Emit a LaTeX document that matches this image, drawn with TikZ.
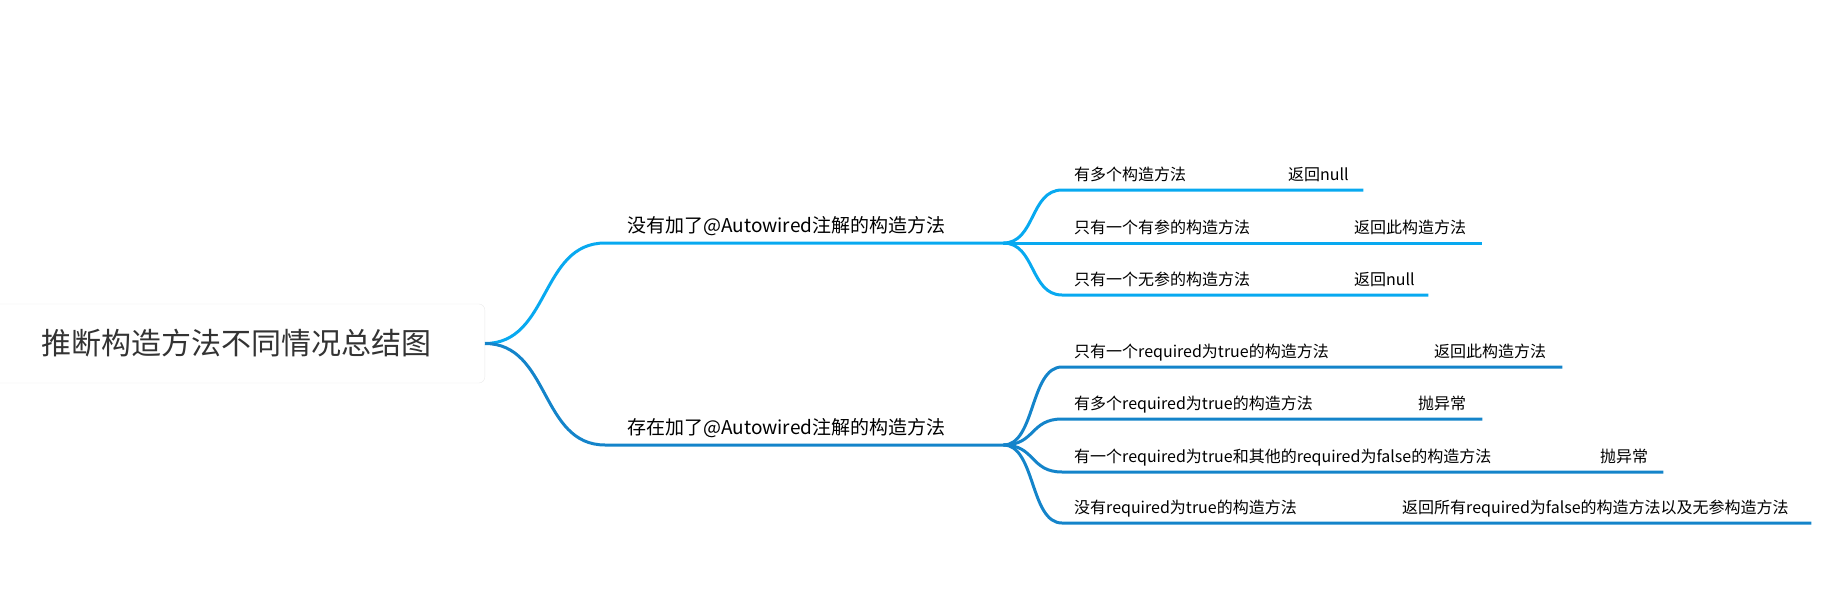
\documentclass[tikz,border=0pt]{standalone}
\usepackage{fontspec}
\setmainfont{Noto Sans CJK SC}
\definecolor{skyline}{HTML}{08A9F0}
\definecolor{deepline}{HTML}{1484CA}
\definecolor{roottext}{HTML}{333333}
\tikzset{
  rootbox/.style={draw=black!8, fill=white, rounded corners=6pt, text=roottext,
    font=\fontsize{30}{36}\selectfont, minimum height=79pt, inner xsep=53pt},
  branch/.style={anchor=south west, font=\fontsize{19}{23}\selectfont,
    inner xsep=22pt, inner ysep=10pt, text depth=0pt, align=left},
  leaf/.style={anchor=south west, font=\fontsize{16}{19}\selectfont,
    inner xsep=12pt, inner ysep=9pt, text depth=0pt, align=left},
  skywire/.style={draw=skyline, line width=3pt},
  deepwire/.style={draw=deepline, line width=3pt},
}
\begin{document}
\begin{tikzpicture}[x=1pt,y=-1pt]
  \useasboundingbox (0,0) rectangle (1839,610);
  \node[rootbox, anchor=east] (root) at (485,343.5) {推断构造方法不同情况总结图};
  \node[branch, text width=354pt] (b1) at (605,243) {没有加了@Autowired注解的构造方法};
  \node[branch, text width=354pt] (b2) at (605,445) {存在加了@Autowired注解的构造方法};
  \draw[skywire] (root.east) .. controls +(65,0) and +(-65,0) .. (b1.south west) -- (b1.south east);
  \draw[deepwire] (root.east) .. controls +(65,0) and +(-65,0) .. (b2.south west) -- (b2.south east);
  % no @Autowired
  \foreach \y/\wc/\tc/\xg/\wg/\tg [count=\i] in {
    190/116/有多个构造方法/1274/61/返回null,
    243/181/只有一个有参的构造方法/1340/114/返回此构造方法,
    295/181/只有一个无参的构造方法/1340/60/返回null} {
    \node[leaf, text width=\wc pt] (a\i) at (1062,\y) {\tc};
    \node[leaf, inner xsep=14pt, text width=\wg pt] (ga\i) at (\xg,\y) {\tg};
    \draw[skywire] (b1.south east) .. controls +(32,0) and +(-32,0) .. (a\i.south west)
      -- (a\i.south east) -- (ga\i.south west) -- (ga\i.south east);
  }
  % with @Autowired
  \foreach \y/\wc/\tc/\xg/\wg/\tg [count=\i] in {
    367/262/只有一个required为true的构造方法/1420/114/返回此构造方法,
    419/246/有多个required为true的构造方法/1404/50/抛异常,
    472/428/有一个required为true和其他的required为false的构造方法/1586/49/抛异常,
    523/230/没有required为true的构造方法/1388/395/返回所有required为false的构造方法以及无参构造方法} {
    \node[leaf, text width=\wc pt] (d\i) at (1062,\y) {\tc};
    \node[leaf, inner xsep=14pt, text width=\wg pt] (gd\i) at (\xg,\y) {\tg};
    \draw[deepwire] (b2.south east) .. controls +(32,0) and +(-32,0) .. (d\i.south west)
      -- (d\i.south east) -- (gd\i.south west) -- (gd\i.south east);
  }
\end{tikzpicture}
\end{document}
